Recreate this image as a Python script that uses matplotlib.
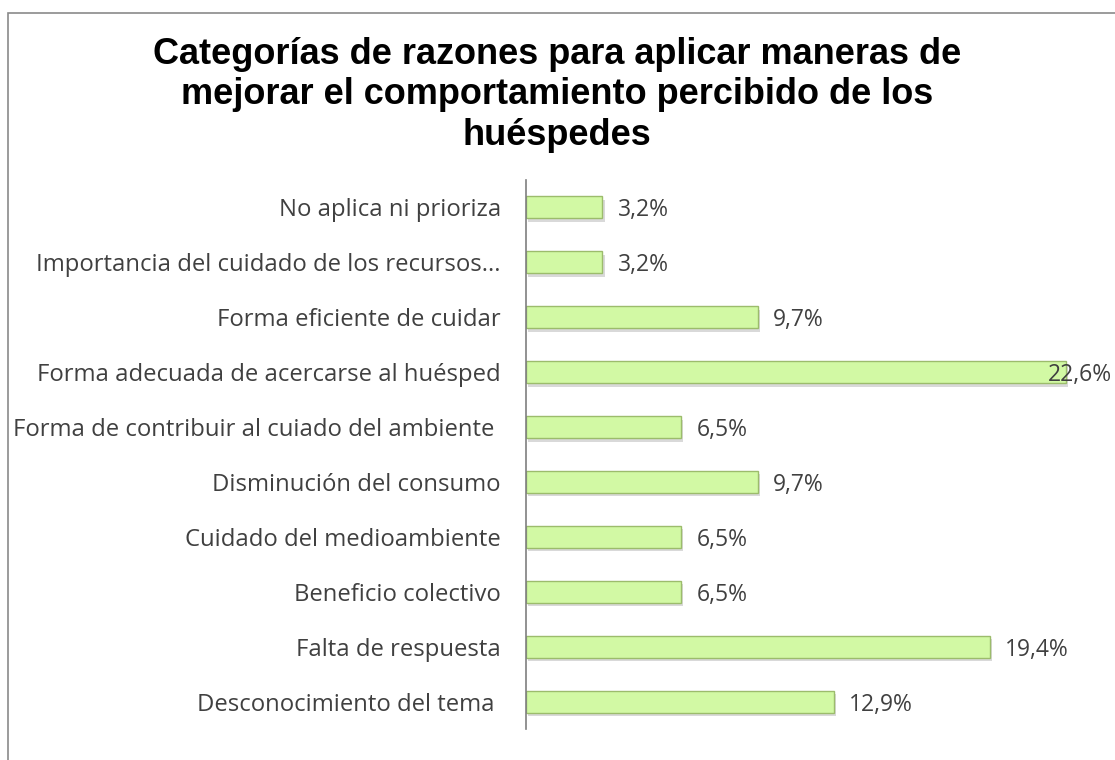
import matplotlib
matplotlib.use("Agg")
import matplotlib.pyplot as plt
import matplotlib.patheffects as pe
from matplotlib.patches import Rectangle

categories = [
    "No aplica ni prioriza",
    "Importancia del cuidado de los recursos...",
    "Forma eficiente de cuidar",
    "Forma adecuada de acercarse al huésped",
    "Forma de contribuir al cuiado del ambiente ",
    "Disminución del consumo",
    "Cuidado del medioambiente",
    "Beneficio colectivo",
    "Falta de respuesta",
    "Desconocimiento del tema ",
]
values = [3.2, 3.2, 9.7, 22.6, 6.5, 9.7, 6.5, 6.5, 19.4, 12.9]
value_labels = ["3,2%", "3,2%", "9,7%", "22,6%", "6,5%", "9,7%", "6,5%", "6,5%", "19,4%", "12,9%"]

title = ("Categorías de razones para aplicar maneras de\n"
         "mejorar el comportamiento percibido de los\n"
         "huéspedes")

W, H = 1115, 760
fig = plt.figure(figsize=(W / 100, H / 100), dpi=100, facecolor="white")

# outer chart border (only top/left visible, rest cropped)
fig.add_artist(Rectangle((8 / W, -0.1), 1.2, (H - 13) / H + 0.1, transform=fig.transFigure,
                         fill=False, edgecolor="#8a8a8a", linewidth=1.2))

ax_left, ax_right = 526, W
ax_top, ax_bot = 180, 729
ax = fig.add_axes([ax_left / W, 1 - ax_bot / H, (ax_right - ax_left) / W, (ax_bot - ax_top) / H])

px_per_pct = 23.9
xmax = (ax_right - ax_left) / px_per_pct
ax.set_xlim(0, xmax)
ax.set_ylim(len(categories) - 0.5, -0.5)

ypos = list(range(len(categories)))
bars = ax.barh(ypos, values, height=0.4, color="#d2f9a4", edgecolor="#9cbc6c", linewidth=1.0)
for b in bars:
    b.set_path_effects([pe.SimplePatchShadow(offset=(1.5, -2.5), shadow_rgbFace="#a0a0a0", alpha=0.4),
                        pe.Normal()])

for y, v, lab in zip(ypos, values, value_labels):
    # Excel pushes the label back inside when it would run off the chart
    x = min(v + 0.63, xmax - 2.8)
    ax.text(x, y, lab, va="center_baseline", ha="left", fontsize=16.5, color="#404040",
            family="Open Sans", clip_on=False)

ax.set_yticks(ypos)
ax.set_yticklabels(categories, fontsize=17.2, color="#404040", family="Open Sans")
ax.tick_params(axis="y", length=0, pad=18)
ax.set_xticks([])
for s in ["top", "right", "bottom"]:
    ax.spines[s].set_visible(False)
ax.spines["left"].set_color("#7f7f7f")
ax.spines["left"].set_linewidth(1.2)

fig.text(557 / W, 1 - 95 / H, title, ha="center", va="center", fontsize=26,
         fontweight="bold", family="Liberation Sans", color="black", linespacing=1.2)

fig.savefig("out.png", dpi=100, facecolor="white")
